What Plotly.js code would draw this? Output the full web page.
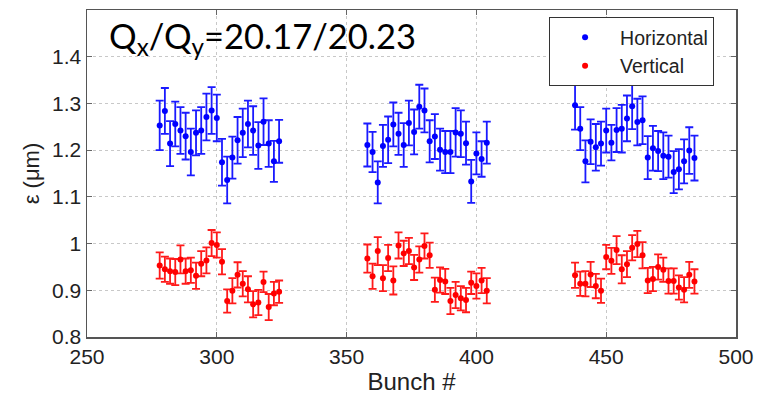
<!DOCTYPE html>
<html>
<head>
<meta charset="utf-8">
<script src="https://cdn.plot.ly/plotly-3.0.1.min.js"></script>
<style>html,body{margin:0;padding:0;background:#fff;}#chart{width:757px;height:398px;}</style>
</head>
<body>
<div id="chart"></div>
<script>
// Bunch numbers (three trains, every second bunch)
const bunchH = [278,280,282,284,286,288,290,292,294,296,298,300,302,304,306,308,310,312,314,316,318,320,322,324,
                358,360,362,364,366,368,370,372,374,376,378,380,382,384,386,388,390,392,394,396,398,400,402,404,
                438,440,442,444,446,448,450,452,454,456,458,460,462,464,466,468,470,472,474,476,478,480,482,484];
const bunchV = bunchH.slice();

// Horizontal emittance (um) and errors
const horizontal = [1.253,1.284,1.214,1.256,1.242,1.230,1.196,1.237,1.242,1.271,1.285,1.269,1.174,1.136,1.184,1.221,1.237,1.256,1.242,1.210,1.261,1.214,1.176,1.219,
                    1.211,1.196,1.131,1.209,1.222,1.255,1.235,1.211,1.258,1.239,1.293,1.285,1.219,1.229,1.201,1.196,1.196,1.238,1.235,1.215,1.133,1.193,1.181,1.216,
                    1.296,1.246,1.176,1.218,1.206,1.214,1.242,1.216,1.243,1.246,1.268,1.294,1.260,1.264,1.184,1.204,1.198,1.188,1.186,1.153,1.159,1.176,1.199,1.183];
const horizontalErr = [0.053,0.049,0.048,0.048,0.050,0.050,0.050,0.048,0.050,0.050,0.050,0.050,0.050,0.050,0.045,0.050,0.052,0.050,0.052,0.050,0.050,0.050,0.044,0.046,
                       0.046,0.043,0.045,0.045,0.050,0.047,0.045,0.047,0.048,0.048,0.047,0.047,0.045,0.048,0.045,0.045,0.045,0.052,0.050,0.046,0.046,0.045,0.038,0.045,
                       0.052,0.046,0.045,0.048,0.050,0.047,0.047,0.038,0.047,0.051,0.049,0.049,0.050,0.051,0.046,0.048,0.043,0.050,0.045,0.045,0.043,0.047,0.050,0.048];

// Vertical emittance (um) and errors
const vertical = [0.953,0.945,0.941,0.939,0.966,0.941,0.943,0.931,0.957,0.964,1.001,0.997,0.961,0.877,0.899,0.933,0.914,0.902,0.870,0.874,0.918,0.864,0.893,0.897,
                  0.968,0.930,0.984,0.926,0.969,0.921,0.996,0.979,0.984,0.949,0.966,0.995,0.975,0.901,0.922,0.919,0.877,0.890,0.883,0.879,0.916,0.909,0.921,0.899,
                  0.932,0.914,0.914,0.934,0.909,0.899,0.971,0.963,0.986,0.945,0.956,0.991,0.999,0.975,0.921,0.924,0.950,0.944,0.920,0.920,0.906,0.901,0.933,0.919];
const verticalErr = [0.028,0.027,0.027,0.028,0.030,0.027,0.027,0.028,0.027,0.028,0.028,0.027,0.027,0.025,0.027,0.027,0.027,0.028,0.028,0.027,0.022,0.028,0.025,0.024,
                     0.030,0.027,0.030,0.028,0.028,0.030,0.028,0.027,0.028,0.027,0.028,0.027,0.027,0.026,0.027,0.027,0.028,0.028,0.026,0.026,0.024,0.027,0.027,0.027,
                     0.027,0.026,0.027,0.027,0.026,0.026,0.026,0.028,0.030,0.030,0.028,0.027,0.028,0.028,0.027,0.026,0.027,0.026,0.027,0.027,0.026,0.027,0.028,0.026];

const xTicks = [250,300,350,400,450,500];
const yTicks = [0.8,0.9,1.0,1.1,1.2,1.3,1.4];

const tickFont = {family: 'Liberation Sans, Arial, sans-serif', size: 21, color: '#222'};

const traces = [
  {x: bunchH, y: horizontal, name: 'Horizontal', type: 'scatter', mode: 'markers',
   marker: {color: '#0000ff', size: 6},
   error_y: {type: 'data', array: horizontalErr, visible: true, color: '#1a1aff', thickness: 1.8, width: 4}},
  {x: bunchV, y: vertical, name: 'Vertical', type: 'scatter', mode: 'markers',
   marker: {color: '#ff0000', size: 6},
   error_y: {type: 'data', array: verticalErr, visible: true, color: '#ff1a1a', thickness: 1.8, width: 4}}
];

const layout = {
  width: 757, height: 398,
  margin: {l: 87, r: 21, t: 10, b: 61},
  paper_bgcolor: '#fff', plot_bgcolor: '#fff',
  showlegend: true,
  xaxis: {
    range: [250, 500], tickvals: xTicks, ticks: 'inside', ticklen: 5, tickcolor: '#666',
    showline: true, linecolor: '#555', linewidth: 1.5, mirror: 'ticks',
    showgrid: true, gridcolor: '#c8c8c8', griddash: 'dot', gridwidth: 1,
    zeroline: false, tickfont: tickFont,
    title: {text: 'Bunch #', font: {family: 'Liberation Sans, Arial, sans-serif', size: 24, color: '#222'}, standoff: 6}
  },
  yaxis: {
    range: [0.8, 1.5], tickvals: yTicks, ticktext: ['0.8','0.9','1','1.1','1.2','1.3','1.4'],
    ticks: 'inside', ticklen: 5, tickcolor: '#666',
    showline: true, linecolor: '#555', linewidth: 1.5, mirror: 'ticks',
    showgrid: true, gridcolor: '#c8c8c8', griddash: 'dot', gridwidth: 1,
    zeroline: false, tickfont: tickFont,
    title: {text: 'ε (μm)', font: {family: 'Liberation Sans, Arial, sans-serif', size: 22, color: '#222'}, standoff: 6}
  },
  legend: {
    x: 0.712, y: 0.978, xanchor: 'left', yanchor: 'top',
    bgcolor: '#fff', bordercolor: '#333', borderwidth: 1,
    font: {family: 'Liberation Sans, Arial, sans-serif', size: 19.5, color: '#222'},
    itemwidth: 60, tracegroupgap: 0, entrywidth: 170, entrywidthmode: 'pixels'
  },
  annotations: [{
    xref: 'paper', yref: 'paper', x: 0.031, y: 0.915, xanchor: 'left', yanchor: 'middle',
    text: 'Q<sub>x</sub>/Q<sub>y</sub>=20.17/20.23', showarrow: false,
    font: {family: 'Lato, Open Sans, sans-serif', size: 34.5, color: '#000'}
  }]
};

Plotly.newPlot('chart', traces, layout, {displayModeBar: false, staticPlot: true});
</script>
</body>
</html>
